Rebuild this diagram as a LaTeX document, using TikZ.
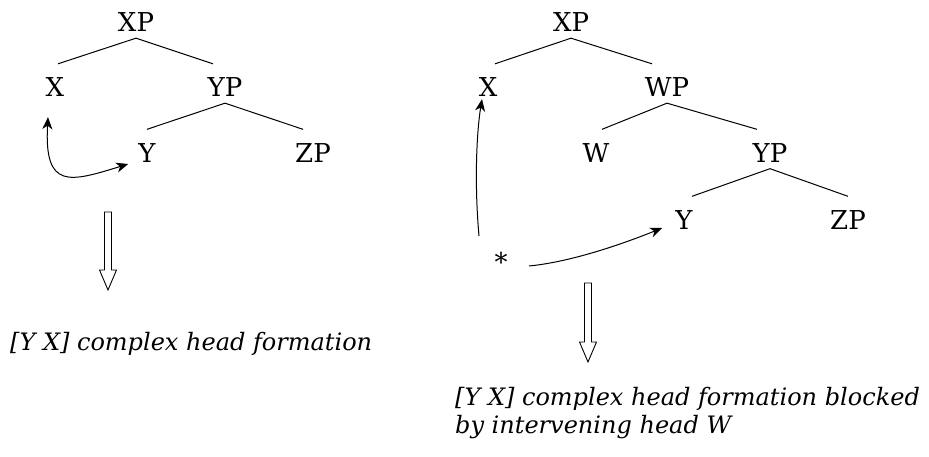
\documentclass[tikz,border=0pt]{standalone}
\usepackage{fontspec}
\setmainfont{DejaVu Serif}
\usetikzlibrary{arrows.meta}
\begin{document}
\begin{tikzpicture}[x=1pt,y=-1pt,
  lab/.style={inner sep=0pt,font=\fontsize{26}{30}\selectfont},
  captext/.style={inner sep=0pt,anchor=base west,font=\fontsize{24}{28}\selectfont\itshape},
  br/.style={line width=1pt},
  mv/.style={line width=1pt},
  dbl/.style={line width=0.9pt,line join=miter},
  >={Stealth[length=12pt,width=10pt,inset=3.5pt]}]
\useasboundingbox (0,0) rectangle (929,457);
% left tree
\node[lab] (XP) at (136,22.5) {XP};
\node[lab] (X) at (55,87.5) {X};
\node[lab] (YP) at (225,87.5) {YP};
\node[lab] (Y) at (147,153) {Y};
\node[lab] (ZP) at (313,153) {ZP};
\draw[br] ([yshift=-6pt]XP.south) -- ([shift={(3pt,14pt)}]X.north);
\draw[br] ([yshift=-6pt]XP.south) -- ([shift={(-12pt,14pt)}]YP.north);
\draw[br] ([yshift=-6pt]YP.south) -- ([shift={(0pt,14pt)}]Y.north);
\draw[br] ([yshift=-6pt]YP.south) -- ([shift={(-10pt,14pt)}]ZP.north);
\draw[mv,<->] ([shift={(-7,20)}]X.south) .. controls (44,190) and (70,182) .. ([shift={(-10,11)}]Y.west);
\draw[dbl] (104.5,212) -- (111.5,212) -- (111.5,270) -- (116.5,270) -- (108,290) -- (99.5,270) -- (104.5,270) -- cycle;
\node[captext] (c1) at (10,350) {[Y X] complex head formation};
% right tree
\node[lab] (XP2) at (571,22.5) {XP};
\node[lab] (X2) at (488,87.5) {X};
\node[lab] (WP) at (667,87.5) {WP};
\node[lab] (W) at (596,153) {W};
\node[lab] (YP2) at (770,153) {YP};
\node[lab] (Y2) at (684,220) {Y};
\node[lab] (ZP2) at (848,220) {ZP};
\node[lab] (star) at (501,262) {*};
\draw[br] ([yshift=-6pt]XP2.south) -- ([shift={(7pt,14pt)}]X2.north);
\draw[br] ([yshift=-6pt]XP2.south) -- ([shift={(-15pt,14pt)}]WP.north);
\draw[br] ([yshift=-6pt]WP.south) -- ([shift={(6pt,14pt)}]W.north);
\draw[br] ([yshift=-6pt]WP.south) -- ([shift={(-13pt,14pt)}]YP2.north);
\draw[br] ([yshift=-6pt]YP2.south) -- ([shift={(8pt,14pt)}]Y2.north);
\draw[br] ([yshift=-6pt]YP2.south) -- ([shift={(0pt,14pt)}]ZP2.north);
\coordinate (s1) at (479,236);
\coordinate (s2) at (529,266);
\draw[mv,->] (s1) .. controls (474,180) and (477,130) .. ([shift={(-6,2)}]X2.south);
\draw[mv,->] (s2) .. controls (570,262) and (620,245) .. ([shift={(-13,8)}]Y2.west);
\draw[dbl] (584.5,283) -- (591.5,283) -- (591.5,342) -- (596.5,342) -- (588,362) -- (579.5,342) -- (584.5,342) -- cycle;
\node[captext] (c2) at (455,405) {[Y X] complex head formation blocked};
\node[captext] (c3) at (455,433) {by intervening head W};
\end{tikzpicture}
\end{document}
